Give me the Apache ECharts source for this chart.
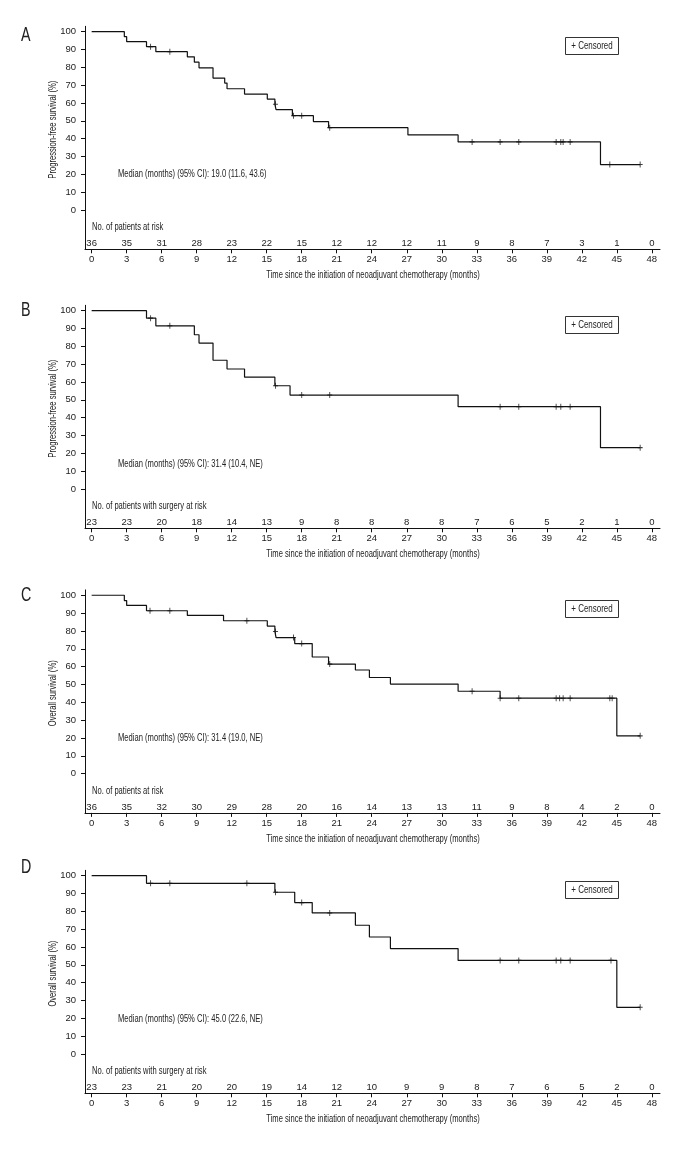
<!DOCTYPE html>
<html>
<head>
<meta charset="utf-8">
<script src="https://cdn.jsdelivr.net/npm/echarts@6/dist/echarts.min.js"></script>
<style>html,body{margin:0;padding:0;background:#fff;}#c{width:700px;height:1150px;}</style>
</head>
<body>
<div id="c"></div>
<script>
// ---------- data ----------
const monthTicks = [0,3,6,9,12,15,18,21,24,27,30,33,36,39,42,45,48];
const yTicks = [0,10,20,30,40,50,60,70,80,90,100];
const panelLetters = ['A','B','C','D'];
const yTitles = ['Progression-free survival (%)','Progression-free survival (%)','Overall survival (%)','Overall survival (%)'];
const riskHeaders = ['No. of patients at risk','No. of patients with surgery at risk','No. of patients at risk','No. of patients with surgery at risk'];
const medianTexts = [
  'Median (months) (95% CI): 19.0 (11.6, 43.6)',
  'Median (months) (95% CI): 31.4 (10.4, NE)',
  'Median (months) (95% CI): 31.4 (19.0, NE)',
  'Median (months) (95% CI): 45.0 (22.6, NE)'
];
const xTitle = 'Time since the initiation of neoadjuvant chemotherapy (months)';
const legendText = '+ Censored';

const riskA = [36,35,31,28,23,22,15,12,12,12,11,9,8,7,3,1,0];
const riskB = [23,23,20,18,14,13,9,8,8,8,8,7,6,5,2,1,0];
const riskC = [36,35,32,30,29,28,20,16,14,13,13,11,9,8,4,2,0];
const riskD = [23,23,21,20,20,19,14,12,10,9,9,8,7,6,5,2,0];

// step curves: [month, survival %] at each change
const curveA = [[0,100],[2.8,97.2],[3.0,94.4],[4.7,91.6],[5.5,88.8],[8.2,85.9],[8.8,82.9],[9.2,79.7],[10.4,74.0],[11.4,71.2],[11.6,68.0],[13.1,65.0],[15.05,62.2],[15.7,59.3],[15.8,56.3],[17.2,52.9],[19.0,49.6],[20.3,46.2],[27.1,42.1],[31.4,38.2],[43.6,25.5],[47.0,25.5]];
const censA = [[5.05,91.6],[6.7,88.8],[15.75,59.3],[17.3,52.9],[18.0,52.9],[20.4,46.2],[32.6,38.2],[35.0,38.2],[36.6,38.2],[39.8,38.2],[40.2,38.2],[40.4,38.2],[41.0,38.2],[44.4,25.5],[47.0,25.5]];

const curveB = [[0,100],[4.7,95.8],[5.5,91.5],[8.8,86.5],[9.2,81.8],[10.4,72.2],[11.6,67.3],[13.1,62.7],[15.7,57.9],[17.0,52.7],[31.4,46.2],[43.6,23.2],[47.0,23.2]];
const censB = [[5.05,95.8],[6.7,91.5],[15.75,57.9],[18.0,52.7],[20.4,52.7],[35.0,46.2],[36.6,46.2],[39.8,46.2],[40.2,46.2],[41.0,46.2],[47.0,23.2]];

const curveC = [[0,100],[2.8,97.0],[3.0,94.3],[4.7,91.3],[8.2,88.7],[11.3,85.7],[15.05,82.7],[15.7,79.7],[15.8,76.3],[17.4,72.9],[18.9,65.4],[20.3,61.4],[22.6,58.1],[23.8,53.9],[25.6,50.2],[31.4,46.2],[35.0,42.3],[45.0,21.2],[47.0,21.2]];
const censC = [[5.0,91.3],[6.7,91.3],[13.3,85.7],[15.75,79.7],[17.3,76.3],[18.0,72.9],[20.4,61.4],[32.6,46.2],[35.0,42.3],[36.6,42.3],[39.8,42.3],[40.1,42.3],[40.4,42.3],[41.0,42.3],[44.4,42.3],[44.6,42.3],[47.0,21.2]];

const curveD = [[0,100],[4.7,95.7],[15.7,90.7],[17.4,84.9],[18.9,79.1],[22.6,72.2],[23.8,65.6],[25.6,59.1],[31.4,52.5],[45.0,26.2],[47.0,26.2]];
const censD = [[5.05,95.7],[6.7,95.7],[13.3,95.7],[15.75,90.7],[18.0,84.9],[20.4,79.1],[35.0,52.5],[36.6,52.5],[39.8,52.5],[40.2,52.5],[41.0,52.5],[44.5,52.5],[47.0,26.2]];

const risks = [riskA, riskB, riskC, riskD];
const curves = [curveA, curveB, curveC, curveD];
const censors = [censA, censB, censC, censD];

// ---------- layout ----------
const FONT = '"Liberation Sans", Arial, sans-serif';
const TXT = '#222';
const LINE = '#111';
const SX = 0.76; // horizontal squeeze to mimic condensed typeface
const gridTops = [26.3, 305.3, 589.9, 870.3];
const gridLeft = 85, gridWidth = 575, gridHeight = 223;
const pxPerUnit = gridHeight / 125;
const letterTops = [25, 300, 585, 857];
const medianDy = [143, 153.5, 143, 143.6];

const chart = echarts.init(document.getElementById('c'), null, {renderer: 'canvas'});

function txt(x, y, text, size, align, extra) {
  return Object.assign({type: 'text', x: x, y: y, scaleX: SX,
    style: {text: text, fontSize: size, fontFamily: FONT, fill: TXT, align: align, verticalAlign: 'middle'}}, extra || {});
}

const grids = [], xAxes = [], yAxes = [], series = [], graphics = [];
for (let i = 0; i < 4; i++) {
  const top = gridTops[i];
  const y100 = top + 3 * pxPerUnit;
  const axisY = top + gridHeight;
  grids.push({left: gridLeft, top: top, width: gridWidth, height: gridHeight, outerBoundsMode: 'none', containLabel: false});
  xAxes.push({
    gridIndex: i, type: 'value', min: -0.57, max: 48.7, position: 'bottom',
    axisLine: {show: true, onZero: false, lineStyle: {color: LINE, width: 1}},
    axisTick: {show: true, length: 4, customValues: monthTicks, lineStyle: {color: LINE}},
    axisLabel: {customValues: monthTicks, fontSize: 9.5, margin: 5, color: TXT, fontFamily: FONT},
    splitLine: {show: false}
  });
  const r = risks[i];
  xAxes.push({
    gridIndex: i, type: 'value', min: -0.57, max: 48.7, position: 'bottom',
    axisLine: {show: false, onZero: false}, axisTick: {show: false}, splitLine: {show: false},
    axisLabel: {inside: true, customValues: monthTicks, margin: 1, fontSize: 9.5, color: TXT, fontFamily: FONT,
      formatter: (v) => String(r[Math.round(v / 3)])}
  });
  yAxes.push({
    gridIndex: i, type: 'value', min: -22, max: 103,
    axisLine: {show: true, onZero: false, lineStyle: {color: LINE, width: 1}},
    axisTick: {show: true, length: 4, customValues: yTicks, lineStyle: {color: LINE}},
    axisLabel: {customValues: yTicks, fontSize: 9.5, margin: 9, color: TXT, fontFamily: FONT},
    splitLine: {show: false}
  });
  series.push({
    type: 'line', xAxisIndex: 2 * i, yAxisIndex: i, step: 'end', data: curves[i],
    symbol: 'none', showSymbol: false, lineStyle: {color: LINE, width: 1.2}, silent: true
  });
  series.push({
    type: 'scatter', xAxisIndex: 2 * i, yAxisIndex: i, data: censors[i],
    symbol: 'path://M5,0L5,10M0,5L10,5', symbolSize: [5, 6],
    itemStyle: {color: 'transparent', borderColor: LINE, borderWidth: 1}, silent: true
  });
  // panel letter
  graphics.push({type: 'text', x: 21, y: letterTops[i], scaleX: 0.68,
    style: {text: panelLetters[i], fontSize: 21, fontFamily: FONT, fill: TXT, align: 'left', verticalAlign: 'top'}});
  // y axis title
  graphics.push(txt(53, y100 + 98, yTitles[i], 10, 'center', {rotation: Math.PI / 2}));
  // median
  graphics.push(txt(118, y100 + medianDy[i], medianTexts[i], 10, 'left'));
  // risk header
  graphics.push(txt(92, y100 + 196, riskHeaders[i], 10, 'left'));
  // x axis title
  graphics.push(txt(373, axisY + 26, xTitle, 10, 'center'));
  // censored box
  const by = Math.round(y100 + 5) + 0.5;
  graphics.push({type: 'rect', shape: {x: 565.5, y: by, width: 53, height: 17},
    style: {fill: '#fff', stroke: '#333', lineWidth: 1}});
  graphics.push(txt(592, by + 8.5, legendText, 10.5, 'center'));
}

chart.setOption({
  animation: false,
  backgroundColor: '#fff',
  textStyle: {fontFamily: FONT},
  grid: grids, xAxis: xAxes, yAxis: yAxes, series: series, graphic: graphics
});
</script>
</body>
</html>
